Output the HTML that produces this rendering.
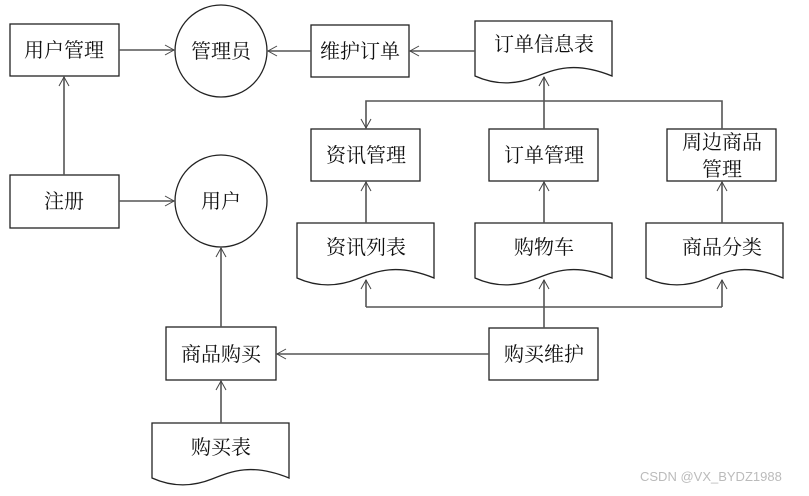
<!DOCTYPE html>
<html><head><meta charset="utf-8"><style>
html,body{margin:0;padding:0;background:#fff}
svg text{font-family:"Liberation Serif","Noto Serif CJK SC",serif;font-size:20px;fill:#111}
</style></head><body>
<svg width="809" height="491" viewBox="0 0 809 491" xmlns="http://www.w3.org/2000/svg">
<defs>
<marker id="a" markerWidth="12" markerHeight="12" refX="10" refY="6" orient="auto" markerUnits="userSpaceOnUse">
<path d="M1,1 L10,6 L1,11" fill="none" stroke="#444" stroke-width="1"/></marker>
<g id="doc"><path d="M0,0 H137 V55 C100,40 80,48 60,56 C40,64 20,64 0,55 Z" fill="#fff" stroke="#222" stroke-width="1.3"/></g>
</defs>
<g fill="#fff" stroke="#222" stroke-width="1.3">
<rect x="10" y="24" width="109" height="52"/>
<rect x="10" y="175" width="109" height="53"/>
<circle cx="221" cy="51" r="46"/>
<circle cx="221" cy="201" r="46"/>
<rect x="311" y="25" width="98" height="52"/>
<rect x="311" y="129" width="109" height="52"/>
<rect x="489" y="129" width="109" height="52"/>
<rect x="667" y="129" width="109" height="52"/>
<rect x="489" y="328" width="109" height="52"/>
<rect x="166" y="327" width="110" height="53"/>
</g>
<use href="#doc" x="475" y="21"/>
<use href="#doc" x="297" y="223"/>
<use href="#doc" x="475" y="223"/>
<use href="#doc" x="646" y="223"/>
<use href="#doc" x="152" y="423"/>
<g stroke="#555" stroke-width="1.6" fill="none">
<line x1="64" y1="175" x2="64" y2="77" marker-end="url(#a)"/>
<line x1="119" y1="201" x2="174" y2="201" marker-end="url(#a)"/>
<line x1="119" y1="50" x2="174" y2="50" marker-end="url(#a)"/>
<line x1="311" y1="51" x2="268" y2="51" marker-end="url(#a)"/>
<line x1="475" y1="51" x2="410" y2="51" marker-end="url(#a)"/>
<line x1="544" y1="129" x2="544" y2="77" marker-end="url(#a)"/>
<polyline points="722,129 722,101 366,101 366,128" marker-end="url(#a)"/>
<line x1="366" y1="223" x2="366" y2="182" marker-end="url(#a)"/>
<line x1="544" y1="223" x2="544" y2="182" marker-end="url(#a)"/>
<line x1="722" y1="223" x2="722" y2="182" marker-end="url(#a)"/>
<line x1="366" y1="307" x2="722" y2="307"/>
<line x1="366" y1="307" x2="366" y2="280" marker-end="url(#a)"/>
<line x1="544" y1="328" x2="544" y2="280" marker-end="url(#a)"/>
<line x1="722" y1="307" x2="722" y2="280" marker-end="url(#a)"/>
<line x1="489" y1="354" x2="277" y2="354" marker-end="url(#a)"/>
<line x1="221" y1="327" x2="221" y2="248" marker-end="url(#a)"/>
<line x1="221" y1="423" x2="221" y2="381" marker-end="url(#a)"/>
</g>
<g text-anchor="middle">
<text x="64" y="57">用户管理</text>
<text x="64" y="208">注册</text>
<text x="221" y="58">管理员</text>
<text x="221" y="208">用户</text>
<text x="360" y="58">维护订单</text>
<text x="544" y="51">订单信息表</text>
<text x="366" y="162">资讯管理</text>
<text x="544" y="162">订单管理</text>
<text x="722" y="149">周边商品</text>
<text x="722" y="176">管理</text>
<text x="366" y="254">资讯列表</text>
<text x="544" y="254">购物车</text>
<text x="722" y="254">商品分类</text>
<text x="544" y="361">购买维护</text>
<text x="221" y="361">商品购买</text>
<text x="221" y="454">购买表</text>
</g>
<text x="640" y="481" style="font-family:'Liberation Sans',sans-serif;font-size:13px;fill:#bbb">CSDN @VX_BYDZ1988</text>
</svg>
</body></html>
